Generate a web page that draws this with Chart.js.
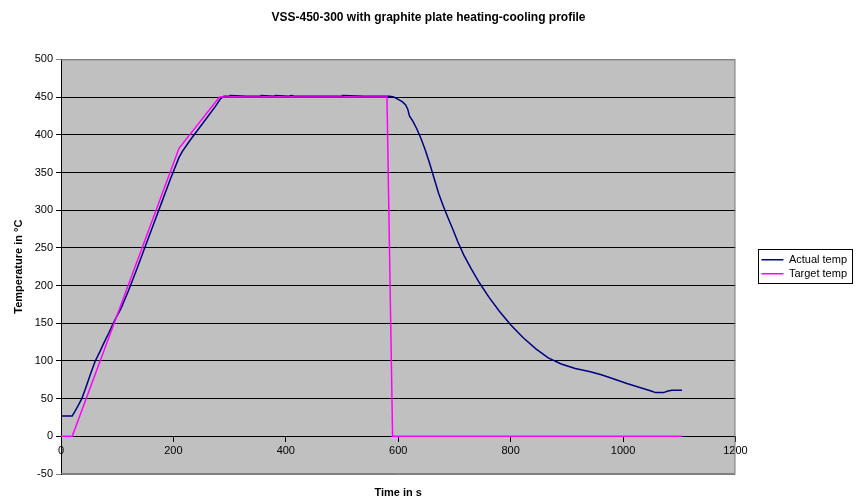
<!DOCTYPE html>
<html><head><meta charset="utf-8">
<script src="https://cdn.jsdelivr.net/npm/chart.js@4.4.1/dist/chart.umd.min.js"></script>
<style>html,body{margin:0;padding:0;background:#fff}#wrap{width:857px;height:498px;position:relative}</style>
</head><body><div id="wrap"><canvas id="c"></canvas></div>
<script>
const chartTitle = 'VSS-450-300 with graphite plate heating-cooling profile';
const xTitle = 'Time in s';
const yTitle = 'Temperature in °C';
const seriesNames = ['Actual temp', 'Target temp'];
const xTicks = [0, 200, 400, 600, 800, 1000, 1200];
const yTicks = [-50, 0, 50, 100, 150, 200, 250, 300, 350, 400, 450, 500];

const actualTime = [0, 20, 24, 30, 37, 43, 49, 55, 61, 69, 77, 85, 93, 100, 107, 120, 135, 150, 165, 180, 195, 210, 216, 230, 245, 260, 275, 284, 290, 300, 301, 330, 355, 356, 380, 381, 405, 410, 415, 450, 500, 501, 540, 585, 592, 600, 607, 613, 617, 620, 626, 633, 640, 648, 656, 664, 672, 680, 688, 697, 706, 717, 730, 745, 762, 780, 800, 822, 845, 867, 890, 915, 940, 960, 980, 1007, 1037, 1050, 1058, 1072, 1080, 1087, 1105];
const actualTemp = [27, 27, 32, 40, 50, 62, 75, 88, 100, 112, 125, 137, 150, 160, 170, 193, 222, 252, 282, 312, 342, 370, 378, 393, 408, 423, 438, 448, 451, 451, 452, 451, 451, 452, 451, 452, 451, 452, 451, 451, 451, 452, 451, 451, 450, 447, 444, 440, 434, 425, 418, 408, 396, 380, 362, 342, 322, 306, 291, 275, 258, 240, 222, 203, 184, 166, 148, 131, 116, 104, 96, 90, 86, 82, 77, 70, 63, 60, 58, 58, 60, 61, 61];
const targetTime = [0, 20, 210, 282, 580, 590, 1105];
const targetTemp = [0, 0, 382, 450, 450, 0, 0];

const FONT = "'Liberation Sans', Arial, sans-serif";

function pts(xs, ys) { return xs.map((x, i) => ({ x: x, y: ys[i] })); }

const plotBg = {
  id: 'plotBg',
  beforeDraw(chart) {
    const a = chart.chartArea, c = chart.ctx;
    c.save();
    c.fillStyle = '#C0C0C0';
    c.fillRect(a.left, a.top, a.right - a.left, a.bottom - a.top);
    c.restore();
  },
  beforeDatasetsDraw(chart) {
    const a = chart.chartArea, c = chart.ctx;
    c.save();
    c.strokeStyle = '#808080';
    c.lineWidth = 1;
    c.beginPath();
    c.moveTo(a.left, a.top + 0.5); c.lineTo(a.right - 0.5, a.top + 0.5);
    c.lineTo(a.right - 0.5, a.bottom - 0.5); c.lineTo(a.left, a.bottom - 0.5);
    c.stroke();
    c.restore();
  },
  afterDraw(chart) {
    const lg = chart.legend;
    if (!lg || !lg.legendHitBoxes || !lg.legendHitBoxes.length) return;
    let l = Infinity, t = Infinity, r = -Infinity, b = -Infinity;
    lg.legendHitBoxes.forEach(h => {
      l = Math.min(l, h.left); t = Math.min(t, h.top);
      r = Math.max(r, h.left + h.width); b = Math.max(b, h.top + h.height);
    });
    const c = chart.ctx;
    c.save();
    c.strokeStyle = '#000';
    c.lineWidth = 1;
    c.strokeRect(Math.round(l - 3) + 0.5, Math.round(t - 5) + 0.5, Math.round(r - l + 8), Math.round(b - t + 9));
    c.restore();
  }
};

new Chart(document.getElementById('c'), {
  type: 'line',
  data: {
    datasets: [
      { label: seriesNames[0], data: pts(actualTime, actualTemp), borderColor: '#000080', backgroundColor: '#000080', borderWidth: 1.5, pointRadius: 0, tension: 0, order: 1 },
      { label: seriesNames[1], data: pts(targetTime, targetTemp), borderColor: '#FF00FF', backgroundColor: '#FF00FF', borderWidth: 1.5, pointRadius: 0, tension: 0, order: 0 }
    ]
  },
  options: {
    responsive: true,
    maintainAspectRatio: false,
    animation: false,
    events: [],
    layout: { padding: { left: 0, right: 0, top: 0, bottom: 0 } },
    plugins: {
      title: { display: true, text: chartTitle, color: '#000', font: { family: FONT, size: 12, weight: 'bold' }, padding: { top: 10, bottom: 35 } },
      legend: {
        position: 'right', align: 'center', fullSize: false,
        labels: {
          usePointStyle: true, pointStyle: 'line', pointStyleWidth: 22, color: '#000',
          font: { family: FONT, size: 11 }, padding: 3,
          sort: (a, b) => a.datasetIndex - b.datasetIndex
        }
      },
      tooltip: { enabled: false }
    },
    scales: {
      x: {
        type: 'linear', min: 0, max: 1200, position: { y: 0 },
        afterBuildTicks: s => { s.ticks = xTicks.map(v => ({ value: v })); },
        grid: { drawOnChartArea: false, drawTicks: true, tickLength: 5, color: '#000' },
        border: { display: true, color: '#000', width: 1 },
        ticks: { color: '#000', font: { family: FONT, size: 11 }, padding: 3, maxRotation: 0, autoSkip: false, callback: v => String(v) }
      },
      xt: {
        axis: 'x', type: 'linear', min: 0, max: 1200, position: 'bottom',
        ticks: { display: false }, grid: { display: false, drawTicks: false }, border: { display: false },
        title: { display: true, text: xTitle, color: '#000', font: { family: FONT, size: 11, weight: 'bold' }, padding: { top: 0, bottom: -1.5 } },
        afterFit: s => { s.height = 24; }
      },
      y: {
        min: -50, max: 500, position: 'left',
        afterBuildTicks: s => { s.ticks = yTicks.map(v => ({ value: v })); },
        afterFit: s => { s.width = 61; },
        grid: {
          color: ctx => (ctx.tick && (ctx.tick.value === 500 || ctx.tick.value === -50)) ? '#808080' : '#000',
          lineWidth: 1, drawTicks: true, tickLength: 5
        },
        border: { display: true, color: '#000', width: 1 },
        ticks: { color: '#000', font: { family: FONT, size: 11 }, padding: 3, autoSkip: false, callback: v => String(v) },
        title: { display: true, text: yTitle, color: '#000', font: { family: FONT, size: 11, weight: 'bold' }, padding: { top: 12, bottom: 0 } }
      },
      ys: {
        axis: 'y', min: -50, max: 500, position: 'right',
        ticks: { display: false }, grid: { display: false, drawTicks: false }, border: { display: false },
        afterFit: s => { s.width = 23; }
      }
    }
  },
  plugins: [plotBg]
});
</script>
</body></html>
